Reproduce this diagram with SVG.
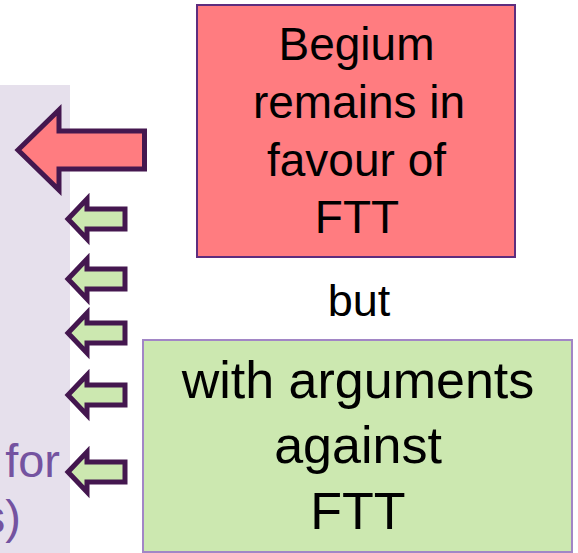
<svg xmlns="http://www.w3.org/2000/svg" width="578" height="553" viewBox="0 0 578 553">
  <style>
    .txt { font-family: "Liberation Sans", Arial, sans-serif; fill: #000; text-anchor: middle; }
    .red-txt { font-size: 46px; }
    .green-txt { font-size: 52px; }
    .side { font-family: "Liberation Sans", Arial, sans-serif; fill: #7453a0; font-size: 47px; text-anchor: end; }
    .arrow { stroke: #44174f; stroke-width: 5; stroke-linejoin: miter; stroke-miterlimit: 10; }
    .arrow-big { fill: #ff7c80; }
    .arrow-small { fill: #cce8b0; }
  </style>
  <defs>
    <polygon id="small-arrow" class="arrow arrow-small" points="68,0 87,-20 87,-10 125,-10 125,10 87,10 87,20"/>
  </defs>

  <!-- side panel with partly visible text -->
  <g id="side-panel">
    <rect x="-1" y="85" width="71" height="470" fill="#e6e0ec"/>
    <text class="side" x="60" y="477">for</text>
    <text class="side" x="21" y="533">s)</text>
  </g>

  <!-- arrows pointing into the panel -->
  <g id="connectors">
    <polygon class="arrow arrow-big" transform="translate(0,150)" points="18,0 59,-40 59,-19 144.5,-19 144.5,19 59,19 59,40"/>
    <use href="#small-arrow" transform="translate(0,219)"/>
    <use href="#small-arrow" transform="translate(0,279)"/>
    <use href="#small-arrow" transform="translate(0,333)"/>
    <use href="#small-arrow" transform="translate(0,395)"/>
    <use href="#small-arrow" transform="translate(0,472)"/>
  </g>

  <g id="favour-box">
    <rect x="197" y="5" width="318" height="252" fill="#ff7c80" stroke="#5e2d7e" stroke-width="2"/>
    <text class="txt red-txt" x="356.5" y="60">Begium</text>
    <text class="txt red-txt" x="359" y="118">remains in</text>
    <text class="txt red-txt" x="356.5" y="176">favour of</text>
    <text class="txt red-txt" x="357" y="233">FTT</text>
  </g>

  <g id="but-label">
    <text class="txt" font-size="45" x="359" y="316">but</text>
  </g>

  <g id="against-box">
    <rect x="143" y="340" width="429" height="212" fill="#cce8b0" stroke="#a286c6" stroke-width="2"/>
    <text class="txt green-txt" x="358" y="398">with arguments</text>
    <text class="txt green-txt" x="358" y="463">against</text>
    <text class="txt green-txt" x="358" y="529">FTT</text>
  </g>
</svg>
